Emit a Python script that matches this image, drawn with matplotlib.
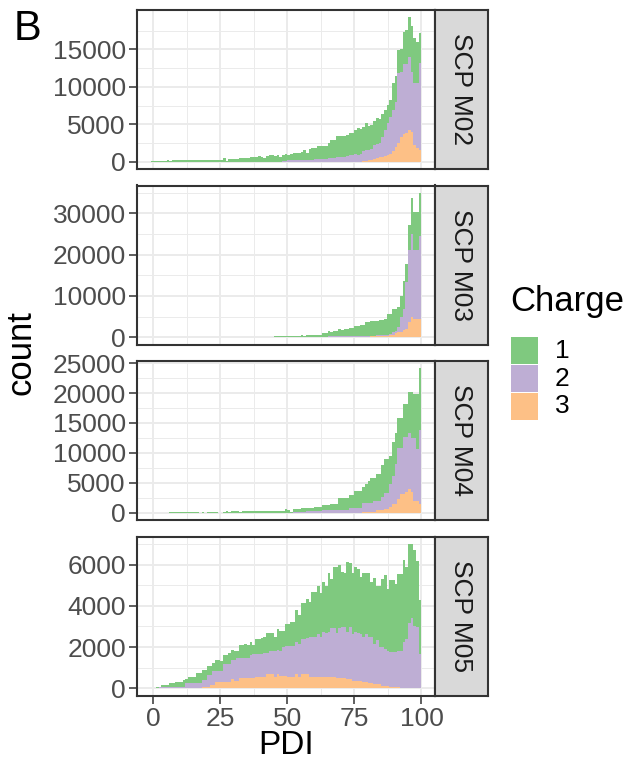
import numpy as np
import matplotlib
matplotlib.use("Agg")
import matplotlib.pyplot as plt
from matplotlib.patches import Rectangle

plt.rcParams['font.family'] = ['Liberation Sans', 'DejaVu Sans']

# histogram bins of PDI (width 1)
pdi_edges = np.arange(-1, 101)

# counts per bin, by precursor charge
m02_c1 = [20, 20, 25, 40,
          140, 150, 160, 150, 160, 170, 160, 165, 170, 160, 175, 170, 165, 180, 170, 175, 180, 170, 180, 185, 175, 190, 180,
          420, 130, 360, 380, 390, 380, 500, 520, 540, 540, 550, 560, 680, 690, 680, 510, 780, 950, 940, 690, 950, 580,
          820, 820, 800, 820, 970, 960, 960, 1040,
          1260, 940, 1360, 1520, 1500, 1710, 1690,
          1650, 1640, 2120, 2360, 2370, 2820, 2770,
          2800, 2750, 2800, 2950, 2880, 3270, 3480, 3400, 3200, 3600, 3200, 3200, 3200, 3470, 3300,
          3030, 2630, 2400, 2270, 3580, 3400, 3070, 3000, 4270, 4500, 5280, 6220, 6000, 5500, 4050]
m02_c2 = [10, 10, 10, 5,
          10, 10, 10, 10, 10, 10, 10, 10, 10, 10, 10, 10, 10, 10, 10, 10, 10, 10, 10, 10, 10, 10, 10,
          20, 20, 20, 20, 20, 20, 20, 20, 20, 20, 20, 20, 20, 20, 20, 20, 20, 20, 20, 20, 20, 20,
          150, 160, 170, 170, 180, 190, 200, 200,
          250, 260, 280, 300, 320, 330, 350,
          400, 420, 450, 480, 480, 650, 700,
          700, 700, 750, 950, 970, 980, 970, 1000, 1400, 1450, 1400, 1400, 1950, 1900, 1850,
          2720, 3520, 4300, 4950, 5400, 6000, 9400, 8700, 9400, 9300, 9700, 7950, 8200, 8600, 11550]
m02_c3 = [10, 10, 5, 5,
          0, 0, 0, 0, 0, 0, 0, 0, 0, 0, 0, 0, 0, 0, 0, 0, 0, 0, 0, 0, 0, 0, 0, 0, 0,
          0, 0, 0, 0, 0, 0, 0, 0, 0, 0, 0, 0, 0, 0, 0, 0, 0, 0, 0, 0, 0, 0, 0, 0, 0,
          0, 0, 0, 0, 0, 0, 0, 0, 0, 0, 0, 0, 0, 0, 0, 0, 0, 0, 0, 0, 0, 0, 0, 0, 0,
          100, 150, 200, 250, 350, 500, 600, 650, 750, 900, 1050,
          1500, 2000, 2500, 3300, 3700, 3800, 4300, 4000, 2300, 1900, 1600]

m03_c1 = [20, 20, 20, 20,
          150, 155, 160, 150, 155, 160, 165, 150, 155, 160, 155, 150, 160, 165, 155, 160, 150, 155, 160, 165, 160,
          155, 150, 160, 155, 165, 160, 155, 150, 160, 165, 155, 160, 150, 155, 160, 165, 160, 155, 150, 160, 155,
          390, 385, 395, 390, 400, 385, 390, 395, 390, 400,
          630, 400, 480, 470, 490, 480, 475, 485, 920, 910, 1200, 1190, 1210, 1200, 1700,
          1680, 1840, 1830, 2070, 2060, 2610, 2600, 2840, 2830, 3380, 3250, 3660, 3640, 3630, 3770,
          3770, 4000, 5100, 4700, 5510, 5230, 4870, 5030, 6650, 4470, 6090, 8820, 9310, 9210, 10500]
m03_c2 = [10, 10, 10, 10,
          15, 15, 15, 15, 15, 15, 15, 15, 15, 15, 15, 15, 15, 15, 15, 15, 15, 15, 15, 15, 15,
          15, 15, 15, 15, 15, 15, 15, 15, 15, 15, 15, 15, 15, 15, 15, 15, 15, 15, 15, 15, 15,
          20, 20, 20, 20, 20, 20, 20, 20, 20, 20,
          20, 20, 160, 170, 175, 165, 170, 180, 180, 185, 200, 195, 205, 200, 200,
          200, 200, 210, 220, 230, 240, 250, 250, 260, 270, 250, 200, 220, 230, 250,
          230, 260, 250, 320, 570, 500, 1210, 3650, 5100, 11340, 17440, 20200, 16690, 16800, 20100]
m03_c3 = [10, 10, 10, 10,
          0, 0, 0, 0, 0, 0, 0, 0, 0, 0, 0, 0, 0, 0, 0, 0, 0, 0, 0, 0, 0, 0, 0, 0, 0, 0,
          0, 0, 0, 0, 0, 0, 0, 0, 0, 0, 0, 0, 0, 0, 0, 0, 0, 0, 0, 0, 0, 0, 0, 0, 0, 0,
          0, 0, 0, 0, 0, 0, 0, 0, 0, 0, 0, 0, 0, 0, 0, 0, 0, 0, 0, 0, 0, 0, 0, 0, 0,
          150, 200, 200, 200, 200, 220, 220, 250, 580, 650,
          1000, 1220, 1220, 1800, 2040, 3650, 4800, 4400, 4400, 4400]

m04_c1 = [10, 10, 10, 10, 10, 10, 10,
          185, 180, 190, 185, 180, 190, 185, 185, 180, 190, 185,
          0, 185, 0, 185, 190, 180, 185, 0, 0,
          190, 200, 195, 205, 200, 210, 195, 200, 205, 210, 200, 215, 205, 200, 210, 215,
          265, 260, 270, 265, 260, 270, 300, 545, 405, 135,
          410, 405, 415, 590, 585, 460, 465, 455, 670, 665, 675, 900, 895, 905, 1120, 1115, 1125,
          1950, 2000, 1980, 2020, 2070, 2070, 2790, 2790, 2780, 2730, 3180, 3730, 4180, 3790, 4560, 4560,
          5280, 5580, 5580, 4730, 5730, 5290, 5110, 5110, 5560, 5560, 6850, 7790, 7360, 9200, 10360]
m04_c2 = [10, 10, 10, 10, 10, 10, 10,
          15, 15, 15, 15, 15, 15, 15, 15, 15, 15, 15, 15, 15, 15, 15, 15, 15, 15, 15, 15, 15, 15, 15,
          15, 15, 15, 15, 15, 15, 15, 15, 15, 15, 15, 15, 15, 15, 15, 15, 15, 15, 15, 15, 15, 15, 15,
          145, 150, 155, 150, 150, 280, 275, 285, 280, 280, 285, 390, 385, 395, 390, 390, 395,
          450, 400, 420, 430, 840, 840, 840, 840, 850, 1400, 1400, 1400, 1400, 1790, 1560, 1560,
          2300, 2680, 2680, 3750, 4640, 6590, 8540, 7710, 9600, 9210, 9380, 8940, 10480, 8640, 12280]
m04_c3 = [10, 10, 10, 10, 10, 10, 10,
          0, 0, 0, 0, 0, 0, 0, 0, 0, 0, 0, 0, 0, 0, 0, 0, 0, 0, 0, 0, 0, 0, 0, 0,
          0, 0, 0, 0, 0, 0, 0, 0, 0, 0, 0, 0, 0, 0, 0, 0, 0, 0, 0, 0, 0, 0, 0, 0,
          0, 0, 0, 0, 0, 0, 0, 0, 0, 0, 0, 0, 0, 0, 0, 0, 0, 0, 0, 0, 0, 0, 0, 0,
          170, 170, 170, 170, 170, 400, 400, 400, 670, 670, 1000,
          1500, 1500, 2230, 3060, 3060, 3450, 4000, 3500, 1960, 1960, 1500]

m05_c1 = [10, 14, 20, 44, 100, 100, 90, 166, 166, 196, 196, 196, 310, 194, 281, 281, 281,
          478, 478, 493, 493, 409, 409, 362, 495, 495, 445, 414, 414, 518, 492, 450, 322,
          602, 622, 692, 602, 654, 455, 755, 765, 769, 780, 940, 852, 892, 692, 990, 992, 755, 1083,
          1080, 1150, 1160, 1530, 1430, 1730, 1730, 1860, 1670, 2190,
          2200, 2330, 2150, 2420, 2280, 2840, 2410, 2950, 3200, 3090,
          2700, 2650, 3360, 3120, 2950, 3110, 3080, 2770, 3080, 2960,
          3080, 2660, 3230, 2610, 2960, 3320, 3560, 2990, 3480, 3480,
          3320, 3720, 3750, 3990, 3450, 3860, 3610, 3700, 3240, 2625]
m05_c2 = [5, 15, 30, 40, 50, 50, 60, 80, 80, 84, 84, 84, 84, 246, 246, 246, 212,
          212, 212, 310, 310, 576, 510, 705, 575, 575, 575, 902, 902, 902, 920, 990, 1118,
          1000, 1000, 1000, 1000, 1118, 1167, 1085, 1085, 1085, 1160, 1030, 1118, 1118, 1248, 1180, 1228, 1425, 1460,
          1480, 1480, 1480, 1560, 1580, 1720, 1720, 1760, 1940, 1910,
          1910, 2090, 1943, 2180, 2153, 2213, 2383, 2383, 2202, 2432,
          2472, 2482, 2295, 2515, 2290, 2420, 2370, 2320, 2220, 2330,
          2254, 2254, 1910, 2120, 1810, 1885, 1805, 1695, 1676, 1676,
          1676, 1736, 1766, 2216, 2376, 3150, 3400, 3000, 2950, 1645]
m05_c3 = [5, 5, 0, 0, 0, 0, 0, 0, 0, 0, 0, 0, 0, 0, 0, 0,
          34, 34, 34, 84, 84, 84, 150, 150, 280, 280, 280, 280, 280, 280, 430, 360, 360,
          478, 478, 478, 478, 478, 478, 560, 560, 560, 560, 690, 690, 690, 560, 690, 580, 580, 580,
          560, 560, 560, 690, 560, 690, 690, 690, 560, 560,
          560, 540, 527, 560, 527, 527, 527, 527, 478, 478,
          478, 478, 445, 445, 330, 330, 330, 330, 280, 300,
          246, 246, 230, 230, 200, 115, 115, 115, 84, 84,
          84, 84, 34, 34, 34, 0, 0, 0, 0, 0]

samples = ["SCP M02", "SCP M03", "SCP M04", "SCP M05"]
counts = [(m02_c1, m02_c2, m02_c3), (m03_c1, m03_c2, m03_c3),
          (m04_c1, m04_c2, m04_c3), (m05_c1, m05_c2, m05_c3)]
y_ticks = [[0, 5000, 10000, 15000], [0, 10000, 20000, 30000],
           [0, 5000, 10000, 15000, 20000, 25000], [0, 2000, 4000, 6000]]
x_ticks = [0, 25, 50, 75, 100]
charges = ["1", "2", "3"]
charge_colors = ["#7FC97F", "#BEAED4", "#FDC086"]

# layout in pixels
W, H = 630, 761
left, right, strip_w = 137, 435, 53
panel_tops = [10, 185.5, 361, 536.5]
panel_h = 159
border = "#333333"

fig = plt.figure(figsize=(W / 100, H / 100), dpi=100)

lo, hi = pdi_edges[0], pdi_edges[-1]
xpad = 0.05 * (hi - lo)

for i, name in enumerate(samples):
    bottom = 1 - (panel_tops[i] + panel_h) / H
    ax = fig.add_axes([left / W, bottom, (right - left) / W, panel_h / H])
    c1, c2, c3 = [np.array(c, dtype=float) for c in counts[i]]
    # stacked like ggplot: charge 3 at the bottom, charge 1 on top
    base = np.zeros_like(c3)
    for vals, col in [(c3, charge_colors[2]), (c2, charge_colors[1]), (c1, charge_colors[0])]:
        ax.stairs(base + vals, pdi_edges, baseline=base.copy(), fill=True,
                  color=col, linewidth=0)
        base = base + vals
    top = base.max()
    ax.set_xlim(lo - xpad, hi + xpad)

    yt = y_ticks[i]
    ax.set_yticks(yt)
    ax.set_yticks([(a + b) / 2 for a, b in zip(yt[:-1], yt[1:])] + [yt[-1] + (yt[1] - yt[0]) / 2], minor=True)
    ax.set_xticks(x_ticks)
    ax.set_xticks([12.5, 37.5, 62.5, 87.5], minor=True)
    ax.set_ylim(-0.05 * top, 1.05 * top)
    ax.set_axisbelow(True)
    ax.grid(which='major', color='#EBEBEB', linewidth=1.4)
    ax.grid(which='minor', color='#EBEBEB', linewidth=0.7)
    ax.tick_params(which='minor', length=0)
    ax.tick_params(which='major', length=5.5, width=1.1, color=border,
                   labelsize=19, labelcolor='#4D4D4D', pad=2.5)
    if i < 3:
        ax.tick_params(axis='x', bottom=False, labelbottom=False)
    for sp in ax.spines.values():
        sp.set_color(border)
        sp.set_linewidth(1.5)

    # facet strip on the right
    sx = fig.add_axes([right / W, bottom, strip_w / W, panel_h / H])
    sx.set_facecolor('#D9D9D9')
    sx.set_xticks([])
    sx.set_yticks([])
    for sp in sx.spines.values():
        sp.set_color(border)
        sp.set_linewidth(1.5)
    sx.text(0.5, 0.5, name, rotation=-90, ha='center', va='center',
            fontsize=19, color='#1A1A1A', transform=sx.transAxes)

fig.text(21.5 / W, 1 - 352.5 / H, "count", rotation=90, ha='center', va='center', fontsize=25)
fig.text(286 / W, 1 - 754 / H, "PDI", ha='center', va='baseline', fontsize=24)
fig.text(14 / W, 1 - 40 / H, "B", ha='left', va='baseline', fontsize=30)

# legend
fig.text(510 / W, 1 - 311 / H, "Charge", ha='left', va='baseline', fontsize=25)
key_tops = [337, 365, 393]
for lab, col, kt in zip(charges, charge_colors, key_tops):
    fig.add_artist(Rectangle((511 / W, 1 - (kt + 27) / H), 27 / W, 27 / H,
                             transform=fig.transFigure, facecolor=col, edgecolor='none'))
    fig.text(555 / W, 1 - (kt + 13.5) / H, lab, ha='left', va='center', fontsize=19)

fig.savefig("out.png", dpi=100)
